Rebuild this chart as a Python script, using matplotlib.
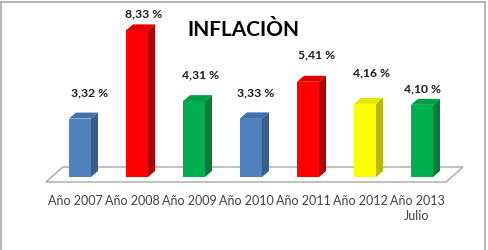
import matplotlib
matplotlib.use("Agg")
import matplotlib.pyplot as plt
from matplotlib.patches import Polygon
from matplotlib.lines import Line2D

plt.rcParams['font.family'] = ['Lato', 'DejaVu Sans']

# data
years = ["Año 2007", "Año 2008", "Año 2009", "Año 2010", "Año 2011", "Año 2012", "Año 2013\nJulio"]
inflation = [3.32, 8.33, 4.31, 3.33, 5.41, 4.16, 4.10]
front_colors = ['#4F81BD', '#FF0000', '#00B050', '#4F81BD', '#FF0000', '#FFFF00', '#00B050']
side_colors = ['#3A5E8C', '#B00000', '#007E3A', '#3A5E8C', '#B00000', '#B8B800', '#007E3A']
top_colors = ['#4171AC', '#E00000', '#009E46', '#4171AC', '#E00000', '#E6E600', '#009E46']

# label nudges in pixels (dx, dy above bar top)
lab_dx = [10, 7, 7, 4.5, 8.5, 6.5, 0]
lab_dy = [26, 17, 26, 26, 27, 31, 16]

px_x = 57.0     # pixels per category
px_y = 17.6     # pixels per percent point

fig = plt.figure(figsize=(4.89, 2.5), dpi=100)
ax = fig.add_axes([0, 0, 1, 1])
ax.set_xlim(-80 / px_x, 409 / px_x)
ax.set_ylim(-73 / px_y, 177 / px_y)
ax.axis('off')

w = 22 / px_x
dx = 7 / px_x
dy = 6 / px_y

# floor
n = len(inflation)
floor = Polygon([(-0.6, -5 / px_y), (n - 1 + 0.42, -5 / px_y),
                 (n - 1 + 0.72, 10 / px_y), (-0.3, 10 / px_y)],
                closed=True, facecolor='white', edgecolor='#A6A6A6', lw=1.0, zorder=1)
ax.add_patch(floor)

bars = ax.bar(range(n), inflation, width=w, color=front_colors, zorder=3)

for i, b in enumerate(bars):
    x0 = b.get_x()
    x1 = x0 + b.get_width()
    h = b.get_height()
    side = Polygon([(x1, 0), (x1 + dx, dy), (x1 + dx, h + dy), (x1, h)],
                   closed=True, facecolor=side_colors[i], edgecolor='none', zorder=2)
    top = Polygon([(x0, h), (x0 + dx, h + dy), (x1 + dx, h + dy), (x1, h)],
                  closed=True, facecolor=top_colors[i], edgecolor='none', zorder=2)
    ax.add_patch(side)
    ax.add_patch(top)

    txt = f"{inflation[i]:.2f}".replace('.', ',') + " %"
    ax.annotate(txt, xy=(i, h), xytext=(lab_dx[i] * 0.72, lab_dy[i] * 0.72),
                textcoords='offset points', ha='center', va='center',
                fontsize=8.7, fontweight='bold', color='#1A1A1A', zorder=5)

    ax.annotate(years[i], xy=(i, 0), xytext=(-5 * 0.72, -18 * 0.72),
                textcoords='offset points', ha='center', va='top',
                fontsize=9, color='#404040', linespacing=1.35, zorder=5)

fig.text(243 / 489, 1 - 30 / 250, "INFLACIÒN", ha='center', va='center',
         fontsize=15, fontweight='bold', color='black')

# outer frame
fr = '#A8A8A8'
fig.add_artist(Line2D([1.5 / 489, 1.5 / 489], [0, 1 - 1.5 / 250], color=fr, lw=1.2, transform=fig.transFigure))
fig.add_artist(Line2D([485.5 / 489, 485.5 / 489], [0, 1 - 1.5 / 250], color=fr, lw=1.2, transform=fig.transFigure))
fig.add_artist(Line2D([1.5 / 489, 485.5 / 489], [1 - 1.5 / 250, 1 - 1.5 / 250], color=fr, lw=1.2, transform=fig.transFigure))

fig.savefig("out.png", dpi=100)
